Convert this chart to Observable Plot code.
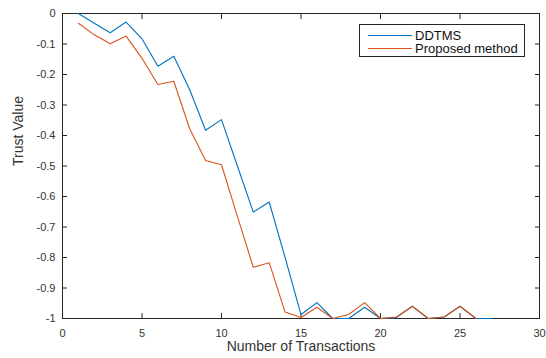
<!DOCTYPE html>
<html>
<head>
<meta charset="utf-8">
<script src="https://cdn.jsdelivr.net/npm/d3@7"></script>
<script src="https://cdn.jsdelivr.net/npm/@observablehq/plot@0.6"></script>
<style>
  html, body { margin: 0; padding: 0; background: #fff; }
  #chart { position: relative; width: 546px; height: 358px; font-family: "Liberation Sans", Arial, sans-serif; }
  #chart svg { display: block; }
  .legend { position: absolute; left: 359px; top: 24px; width: 166px; height: 33px; box-sizing: border-box;
            border: 1px solid #262626; background: #fff; font-size: 13px; color: #111; }
  .legend .row { position: absolute; left: 8px; height: 14px; display: flex; align-items: center; }
  .legend .swatch { width: 44px; height: 0; border-top: 1px solid; margin-right: 3px; }
</style>
</head>
<body>
<div id="chart"></div>
<script>
// Number of transactions (x) for each series
const transactionsDDTMS = [1, 2, 3, 4, 5, 6, 7, 8, 9, 10, 11, 12, 13, 14, 15, 16, 17, 18, 19, 20, 21, 22, 23, 24, 25, 26, 27];
const transactionsProposed = [1, 2, 3, 4, 5, 6, 7, 8, 9, 10, 11, 12, 13, 14, 15, 16, 17, 18, 19, 20, 21, 22, 23, 24, 25, 26];

// Trust values per transaction
const trustDDTMS = [0, -0.032, -0.063, -0.028, -0.083, -0.173, -0.14, -0.25, -0.383, -0.348, -0.5, -0.651, -0.618, -0.8, -0.987, -0.948, -1, -1, -0.963, -1, -0.997, -0.96, -1, -0.995, -0.96, -1, -1];
const trustProposed = [-0.032, -0.07, -0.099, -0.074, -0.147, -0.233, -0.222, -0.378, -0.482, -0.496, -0.665, -0.832, -0.817, -0.979, -0.997, -0.963, -1, -0.987, -0.948, -1, -0.995, -0.96, -1, -0.995, -0.96, -1];

const seriesNames = ["DDTMS", "Proposed method"];
const seriesColors = ["#0072BD", "#D95319"];

const xTicks = [0, 5, 10, 15, 20, 25, 30];
const yTicks = [0, -0.1, -0.2, -0.3, -0.4, -0.5, -0.6, -0.7, -0.8, -0.9, -1];

const xLabel = "Number of Transactions";
const yLabel = "Trust Value";

const rows = [
  ...transactionsDDTMS.map((n, i) => ({series: seriesNames[0], n, trust: trustDDTMS[i]})),
  ...transactionsProposed.map((n, i) => ({series: seriesNames[1], n, trust: trustProposed[i]}))
];

const axisColor = "#262626";

const chart = Plot.plot({
  width: 546,
  height: 358,
  marginLeft: 62,
  marginRight: 7,
  marginTop: 13,
  marginBottom: 40,
  style: {fontFamily: '"Liberation Sans", Arial, sans-serif', fontSize: "11px", color: "#333", background: "#fff", overflow: "visible"},
  x: {domain: [0, 30]},
  y: {domain: [-1, 0]},
  color: {domain: seriesNames, range: seriesColors},
  marks: [
    Plot.frame({stroke: axisColor, strokeWidth: 1}),
    // inward ticks on all four sides, labels on bottom and left
    Plot.axisX(xTicks, {anchor: "bottom", tickSize: -5, tickPadding: 16, stroke: axisColor, tickFormat: d => String(d), label: null}),
    Plot.axisX(xTicks, {anchor: "top", tickSize: -5, stroke: axisColor, tickFormat: () => "", label: null}),
    Plot.axisY(yTicks, {anchor: "left", tickSize: -5, tickPadding: 12, stroke: axisColor, tickFormat: d => String(d), label: null}),
    Plot.axisY(yTicks, {anchor: "right", tickSize: -5, stroke: axisColor, tickFormat: () => "", label: null}),
    Plot.line(rows, {x: "n", y: "trust", z: "series", stroke: "series", strokeWidth: 1.1}),
    Plot.text([xLabel], {frameAnchor: "bottom", dy: 32.5, text: d => d, fontSize: 14, fill: "#333"}),
    Plot.text([yLabel], {frameAnchor: "left", dx: -44, rotate: -90, text: d => d, fontSize: 14, fill: "#333"})
  ]
});

const host = document.getElementById("chart");
host.appendChild(chart);

// Legend box in the upper right of the axes
const legend = document.createElement("div");
legend.className = "legend";
seriesNames.forEach((name, i) => {
  const row = document.createElement("div");
  row.className = "row";
  row.style.top = (3 + i * 13.5) + "px";
  const sw = document.createElement("span");
  sw.className = "swatch";
  sw.style.borderColor = seriesColors[i];
  const label = document.createElement("span");
  label.textContent = name;
  row.appendChild(sw);
  row.appendChild(label);
  legend.appendChild(row);
});
host.appendChild(legend);
</script>
</body>
</html>
